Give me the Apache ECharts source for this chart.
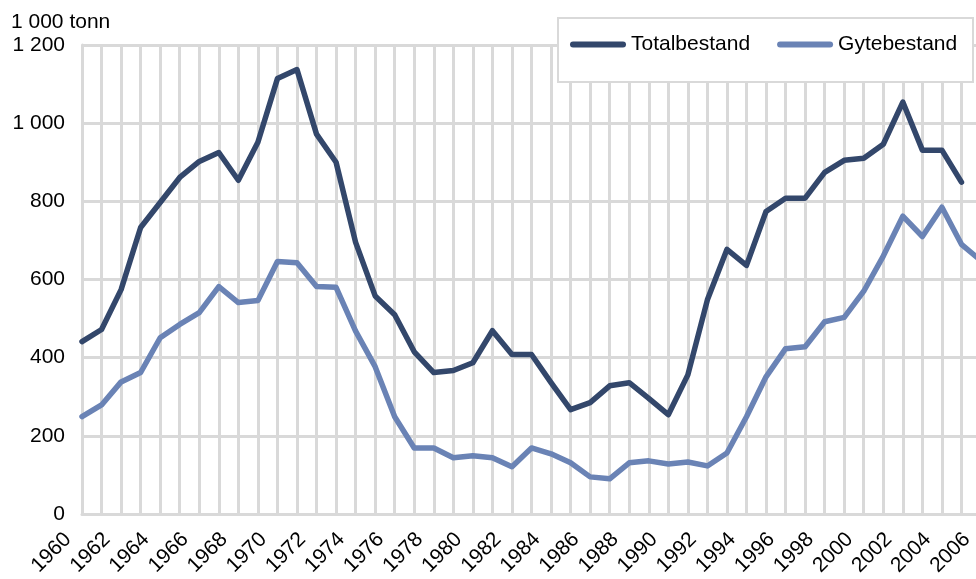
<!DOCTYPE html>
<html lang="no">
<head>
    <meta charset="UTF-8">
    <title>Bestand</title>
    <script src="https://cdn.jsdelivr.net/npm/echarts@6/dist/echarts.min.js"></script>
    <style>
        html, body { margin: 0; padding: 0; overflow: hidden; background: #fff; }
        #wrap { position: relative; width: 976px; height: 579px; overflow: hidden; }
        #bestand { position: absolute; left: 0; top: 0; width: 1000px; height: 579px; }
    </style>
</head>
<body>
<div id="wrap"><div id="bestand"></div></div>
</body>
<script type="text/javascript">
    var years = ['1960', '1961', '1962', '1963', '1964', '1965', '1966', '1967', '1968', '1969',
        '1970', '1971', '1972', '1973', '1974', '1975', '1976', '1977', '1978', '1979',
        '1980', '1981', '1982', '1983', '1984', '1985', '1986', '1987', '1988', '1989',
        '1990', '1991', '1992', '1993', '1994', '1995', '1996', '1997', '1998', '1999',
        '2000', '2001', '2002', '2003', '2004', '2005', '2006'];

    // 1 000 tonn
    var totalbestand = [441, 472, 574, 733, 797, 861, 902, 925, 854, 951,
        1114, 1137, 972, 900, 695, 558, 510, 415, 362, 367,
        387, 469, 408, 408, 336, 267, 285, 328, 336, 296,
        254, 356, 548, 677, 636, 774, 808, 808, 874, 905,
        910, 946, 1054, 931, 931, 849, null];

    var gytebestand = [249, 279, 338, 362, 451, 485, 515, 582, 541, 546,
        646, 643, 582, 580, 468, 377, 249, 169, 169, 144,
        149, 144, 121, 169, 154, 131, 95, 90, 131, 136,
        128, 133, 123, 156, 249, 351, 423, 428, 492, 503,
        570, 660, 762, 710, 785, 690, 648];

    var seriesNames = ['Totalbestand', 'Gytebestand'];

    var fontName = 'Liberation Sans, Arial, sans-serif';
    var gridGray = '#d9d9d9';

    // canvas is wider than the page: the 2006 end of the plot is cut off like in the original
    var chart = echarts.init(document.getElementById('bestand'), null, { width: 1000, height: 579 });

    var option = {
        animation: false,
        textStyle: { fontFamily: fontName, color: '#000' },
        title: {
            text: '1 000 tonn',
            left: 11,
            top: 12,
            padding: 0,
            textStyle: { fontFamily: fontName, fontSize: 21, fontWeight: 'normal', color: '#000' }
        },
        // legend box drawn separately so its size matches
        graphic: [{
            type: 'rect',
            left: 557,
            top: 17,
            z: 5,
            shape: { width: 415, height: 64 },
            style: { fill: '#fff', stroke: gridGray, lineWidth: 2 }
        }],
        legend: {
            data: seriesNames,
            left: 570,
            top: 34,
            z: 6,
            padding: 0,
            itemGap: 27,
            itemWidth: 56,
            itemHeight: 6,
            icon: 'path://M3,0 L53,0 A3,3 0 0 1 53,6 L3,6 A3,3 0 0 1 3,0 Z',
            textStyle: { fontFamily: fontName, fontSize: 21, color: '#000' }
        },
        grid: {
            left: 82,
            right: 19,
            top: 45,
            bottom: 65
        },
        xAxis: {
            type: 'category',
            data: years,
            boundaryGap: false,
            axisLine: { lineStyle: { color: gridGray, width: 3 } },
            axisTick: { show: false },
            axisLabel: {
                interval: 1,
                rotate: 45,
                margin: 8,
                padding: [0, 20, 0, 0],
                fontFamily: fontName,
                fontSize: 21,
                color: '#000'
            },
            splitLine: {
                show: true,
                interval: 0,
                lineStyle: { color: gridGray, width: 3 }
            }
        },
        yAxis: {
            type: 'value',
            min: 0,
            max: 1200,
            interval: 200,
            axisLine: { show: true, lineStyle: { color: gridGray, width: 3 } },
            axisTick: { show: false },
            axisLabel: {
                margin: 17,
                fontFamily: fontName,
                fontSize: 21,
                color: '#000',
                formatter: function (v) {
                    return String(v).replace(/\B(?=(\d{3})+(?!\d))/g, ' ');
                }
            },
            splitLine: { lineStyle: { color: gridGray, width: 3 } }
        },
        series: [
            {
                name: seriesNames[0],
                type: 'line',
                data: totalbestand,
                symbol: 'none',
                color: '#33476b',
                lineStyle: { color: '#33476b', width: 5.5, cap: 'round', join: 'round' },
                z: 3
            },
            {
                name: seriesNames[1],
                type: 'line',
                data: gytebestand,
                symbol: 'none',
                color: '#6a83b5',
                lineStyle: { color: '#6a83b5', width: 5.5, cap: 'round', join: 'round' },
                z: 2
            }
        ]
    };

    chart.setOption(option);
</script>
</html>
